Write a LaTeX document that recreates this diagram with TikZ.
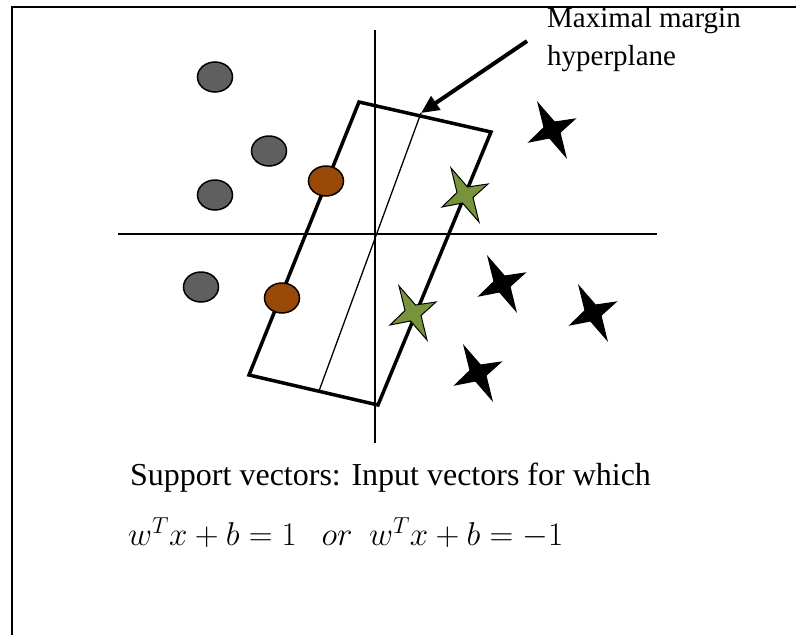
\RequirePackage{fix-cm}
\documentclass[tikz,border=0pt]{standalone}
\usepackage{fontspec}
\setmainfont{Liberation Serif}
\usetikzlibrary{arrows.meta}
\definecolor{dotgray}{HTML}{5F5F5F}
\definecolor{svbrown}{HTML}{984807}
\definecolor{svgreen}{HTML}{77933C}
\begin{document}
\begin{tikzpicture}[x=1pt,y=-1pt,
  thinline/.style={line width=2pt},
  dot/.style={line width=1.5pt,draw=black},
  starpath/.style={line width=1pt,draw=black,line join=miter}]
\useasboundingbox (0,0) rectangle (796,635);
\draw[thinline] (12,635)--(12,7)--(796,7);

% axes
\draw[thinline] (118,234)--(657,234);
\draw[thinline] (375,30)--(375,443);

% margin band and hyperplane
\draw[line width=3.5pt,line join=miter] (359,102)--(491,132)--(378,405)--(249,375)--cycle;
\coordinate (hp) at (421,113);
\coordinate (hq) at (319,391);
\draw[line width=1.3pt] (hp)--(hq);

% class one
\foreach \x/\y in {215/77,269/151,215/195,201/287}
  \filldraw[dot,fill=dotgray] (\x,\y) ellipse (17.5 and 15);
\foreach \x/\y in {326/181,282/298}
  \filldraw[dot,fill=svbrown] (\x,\y) ellipse (17.5 and 15);

% class two
\foreach \x/\y/\c in {552/130/black,502/284/black,593/313/black,478/373/black,465/195/svgreen,413/313/svgreen}
  \filldraw[starpath,fill=\c,shift={(\x,\y)}] (-14,-27) -- (2.5,-8) -- (23,-11) -- (8,2.5)
    -- (14,27) -- (-2.5,8) -- (-23,12) -- (-8,-2.5) -- cycle;

% labels
\node[anchor=base west,align=left,inner sep=0pt,font=\fontsize{29}{38}\selectfont] (lbl) at (547,65) {Maximal margin\\hyperplane};
\draw[line width=4pt,-{Triangle[length=18pt,width=16pt]}] ([xshift=-20pt,yshift=-2pt]lbl.west) -- (hp);

\node[anchor=base west,inner sep=0pt,font=\fontsize{32}{40}\selectfont] (sv) at (130,485) {Support vectors: Input vectors for which};
\node[anchor=base west,inner sep=0pt,font=\fontsize{33}{41}\selectfont] (eq) at (128,545) {$w^Tx+b=1\ \ \ or\ \ w^Tx+b=-1$};
\end{tikzpicture}
\end{document}
